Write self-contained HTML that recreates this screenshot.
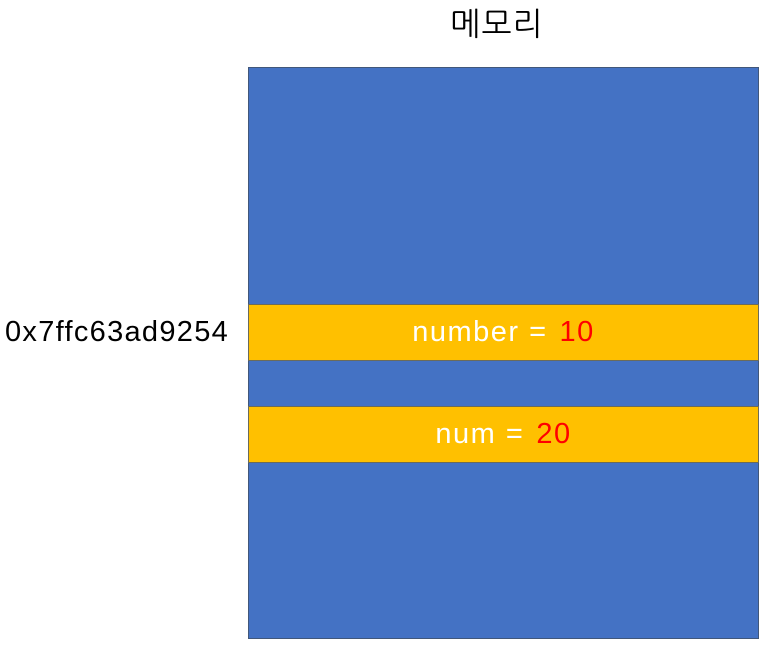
<!DOCTYPE html>
<html><head><meta charset="utf-8"><style>
body{margin:0;width:764px;height:645px;background:#fff;position:relative;overflow:hidden;font-family:"Liberation Sans","NanumGothic","Noto Sans CJK KR",sans-serif}
.a{position:absolute;box-sizing:border-box}
.mem{left:248px;top:67px;width:511px;height:572px;background:#4472c4;border:1px solid #41577a}
.band{left:248px;width:511px;height:57px;background:#ffc000;border:1px solid #6b6b5a;color:#fff;font-size:29px;letter-spacing:1.5px;display:flex;align-items:center;justify-content:center}
.band span{color:#ff0000;margin-left:12px}
</style></head><body>
<div class="a" style="left:420px;top:4px;width:154px;text-align:center;font-size:32px;color:#000;letter-spacing:1px">메모리</div>
<div class="a mem"></div>
<div class="a band" style="top:304px">number =<span>10</span></div>
<div class="a band" style="top:406px">num =<span>20</span></div>
<div class="a" style="left:5px;top:316px;font-size:29px;letter-spacing:1.3px;color:#000">0x7ffc63ad9254</div>
</body></html>
